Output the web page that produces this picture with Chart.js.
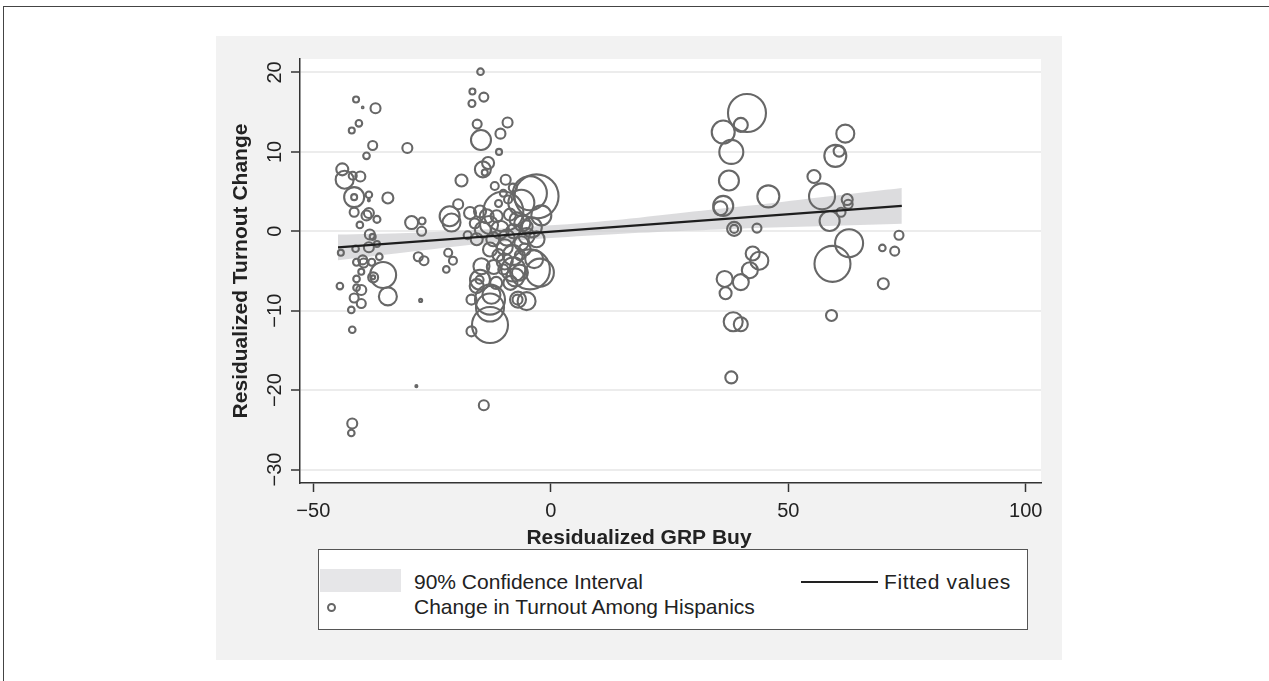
<!DOCTYPE html>
<html>
<head>
<meta charset="utf-8">
<script src="https://cdn.jsdelivr.net/npm/chart.js@4.4.0/dist/chart.umd.min.js"></script>
<style>
  html, body { margin: 0; padding: 0; background: #fff; }
  #wrap { position: relative; width: 1269px; height: 681px; overflow: hidden;
          font-family: "Liberation Sans", Arial, Helvetica, sans-serif; color: #222; }
  #frame { position: absolute; left: 3px; top: 6px; right: -10px; bottom: -10px;
           border-top: 1.5px solid #444; border-left: 1.5px solid #444; }
  #chart { position: absolute; left: 0; top: 0; }
  #legend { position: absolute; left: 318px; top: 549px; width: 708px; height: 79px;
            border: 1.5px solid #555; background: #fff; font-size: 21px; }
  #legend div { position: absolute; }
  .lbl { line-height: 24px; white-space: nowrap; }
</style>
</head>
<body>
<div id="wrap">
  <div id="frame"></div>
  <canvas id="chart" width="1269" height="681"></canvas>
  <div id="legend">
    <div style="left:1px;top:19px;width:81px;height:23px;background:#e6e6e8;"></div>
    <div class="lbl" style="left:95px;top:20px;">90% Confidence Interval</div>
    <div style="left:482px;top:31px;width:77px;height:2px;background:#222;"></div>
    <div class="lbl" style="left:565px;top:20px;letter-spacing:0.6px;">Fitted values</div>
    <div style="left:8px;top:53px;width:5px;height:5px;border:2px solid #666;border-radius:50%;"></div>
    <div class="lbl" style="left:95px;top:45px;">Change in Turnout Among Hispanics</div>
  </div>
</div>
<script>
// bubbles: x = residualized GRP buy, y = residualized turnout change, r = marker size
var grpBuy = [
  -41.0, -36.9, -40.4, -41.9, -37.5, -30.2, -38.8, -43.9, -43.4, -41.7,
  -40.1, -41.4, -41.4, -38.3, -38.3, -34.3, -41.4, -38.8, -38.3, -36.6,
  -40.2, -38.1, -29.3, -27.1, -27.2, -37.5, -38.3, -36.6, -44.2, -41.1,
  -40.9, -39.6, -39.4, -37.7, -36.1, -39.9, -27.9, -26.7, -22.0, -21.6,
  -35.3, -37.4, -37.4, -40.9, -44.4, -40.9, -39.9, -41.4, -39.9, -34.3,
  -27.4, -42.0, -41.8, -28.3, -41.8, -42.0, -39.6,
  -14.8, -16.5, -14.1, -16.6, -15.5, -14.7, -9.1, -10.6, -10.9, -14.3,
  -13.2, -13.9, -18.8, -11.8, -21.3, -19.5, -20.9, -3.0, -4.4, -6.2,
  -10.0, -10.0, -11.0, -9.0, -17.0, -14.9, -13.5, -11.4, -8.6, -7.2,
  -5.1, -14.3, -10.7, -7.9, -5.1, -15.6, -12.1, -9.3, -6.2, -3.0,
  -12.8, -9.7, -5.5, -20.6, -14.6, -14.9, -15.0, -16.7, -12.8, -12.8,
  -12.8, -16.7, -7.9, -4.4, -6.5, -6.9, -9.7, -14.1, -15.6, -12.5,
  -2.3, -5.1, -7.0, -10.0, -17.5, -16.0, -8.0, -6.5, -11.5, -8.5,
  -2.0, -4.0, -8.0, -3.5, -11.0, -6.0, -13.0, -9.5, -7.5, -12.0,
  41.3, 36.3, 40.0, 38.0, 37.5, 36.3, 35.7, 45.8, 38.6, 38.6,
  43.4, 62.0, 59.9, 60.7, 55.4, 57.1, 62.4, 62.6, 61.1, 58.7,
  62.8, 59.3, 73.3, 69.8, 72.4, 42.5, 43.9, 41.9, 36.6, 40.0,
  36.8, 70.0, 38.4, 40.0, 59.1, 38.0
];
var turnoutChange = [
  16.6, 15.5, 13.6, 12.7, 10.8, 10.5, 9.5, 7.8, 6.5, 7.0,
  6.9, 4.3, 4.3, 4.6, 3.9, 4.2, 2.4, 2.0, 2.3, 1.5,
  0.8, -0.4, 1.1, 1.3, 0.0, -0.7, -2.0, -1.6, -2.7, -2.2,
  -3.9, -3.6, -4.0, -3.9, -3.2, -5.1, -3.2, -3.7, -4.8, -2.7,
  -5.5, -5.8, -5.8, -6.0, -6.9, -7.1, -7.4, -8.4, -9.1, -8.2,
  -8.7, -9.9, -12.4, -19.5, -24.2, -25.4, 15.6,
  20.1, 17.6, 16.9, 16.1, 13.5, 11.5, 13.7, 12.3, 10.0, 7.8,
  8.6, 7.4, 6.4, 5.7, 1.9, 3.4, 1.1, 4.4, 4.8, 3.6,
  2.5, 4.8, 3.5, 4.0, 2.3, 2.5, 1.9, 1.9, 2.1, 1.5,
  0.6, 0.2, 0.2, 0.0, -0.6, -1.0, -1.0, -0.8, -1.5, -1.0,
  -2.3, -2.0, -2.3, -3.7, -4.4, -6.1, -6.1, -8.6, -8.6, -9.6,
  -11.8, -12.6, -4.8, -4.8, -5.2, -8.6, -3.8, -21.9, -6.9, -8.0,
  -5.2, -8.8, -8.6, -4.8, -0.5, 1.0, 5.5, -3.0, -6.5, -6.5,
  2.0, 0.5, -3.0, -3.5, -3.0, 1.0, 0.8, 6.5, -5.8, -4.5,
  14.9, 12.5, 13.4, 10.0, 6.4, 3.2, 2.9, 4.4, 0.3, 0.3,
  0.4, 12.3, 9.5, 10.1, 6.9, 4.4, 4.0, 3.4, 2.4, 1.3,
  -1.5, -4.1, -0.5, -2.1, -2.5, -2.8, -3.7, -4.9, -6.0, -6.4,
  -7.8, -6.6, -11.4, -11.7, -10.6, -18.4
];
var popSize = [
  3, 5, 3.3, 3, 4.5, 5, 3.3, 6, 9, 4,
  5, 10, 3, 3.3, 1, 5.5, 4.5, 5, 5, 3.5,
  3.3, 5, 6.5, 3.5, 4.5, 3, 5, 3, 3, 3.3,
  3.5, 4.5, 4.5, 3.5, 3.3, 3, 4.5, 4.5, 3.3, 4,
  13, 5, 2, 3.3, 3.3, 3.3, 5, 4.5, 4.5, 9,
  1.5, 3.3, 3.3, 1, 5, 3.3, 0.8,
  3.3, 3, 4.5, 3.5, 4.5, 10, 5, 5, 3, 8,
  6, 3, 6, 4, 10, 5, 9, 22, 17, 13,
  20, 3.5, 3.5, 4, 6, 6, 7, 6, 6, 7,
  6, 8, 9, 7, 8, 6, 7, 8, 7, 8,
  7, 8, 6, 4, 8, 10, 4, 5, 15, 14,
  18, 5, 12, 20, 8, 8, 8, 5, 7, 9,
  14, 9, 5, 5, 4, 5, 4, 5, 6, 7,
  10, 10, 10, 9, 6, 8, 9, 5, 9, 7,
  19, 11.5, 7, 12, 10, 10, 7, 11, 7, 4,
  4.5, 9, 11, 5.5, 6.5, 13, 5.5, 4.5, 4.5, 10,
  14, 18, 4.5, 3.3, 4.5, 7, 9, 8, 8, 8,
  6, 5.5, 9.5, 7, 5.5, 6
];

// fitted line and 90% confidence band
var fitX = [-44.8, 73.9];
var fitY = [-2.03, 3.2];
var ciX = [-44.8, -30, -15, 0, 15, 30, 45, 60, 73.9];
var ciUpper = [-0.4, -0.2, 0.2, 0.75, 1.5, 2.5, 3.45, 4.5, 5.45];
var ciLower = [-3.65, -2.6, -1.6, -0.85, -0.3, 0.1, 0.45, 0.7, 0.95];

var xTicks = [-50, 0, 50, 100];
var yTicks = [-30, -20, -10, 0, 10, 20];

function fmt(v) { return v < 0 ? '\u2212' + Math.abs(v) : String(v); }

var FONT = '"Liberation Sans", Arial, Helvetica, sans-serif';

var panel = {
  id: 'panel',
  beforeDraw: function (chart) {
    var ctx = chart.ctx, a = chart.chartArea;
    ctx.save();
    ctx.fillStyle = '#f2f2f2';
    ctx.fillRect(216, 36, 846, 624);
    ctx.fillStyle = '#ffffff';
    ctx.fillRect(a.left, a.top, a.right - a.left, a.bottom - a.top);
    ctx.restore();
  },
  afterDraw: function (chart) {
    var ctx = chart.ctx, y = chart.scales.y, x = chart.scales.x;
    ctx.save();
    ctx.fillStyle = '#222';
    ctx.textAlign = 'center';
    ctx.textBaseline = 'middle';
    // y tick labels are vertical, like the original
    ctx.font = '20px ' + FONT;
    yTicks.forEach(function (v) {
      ctx.save();
      ctx.translate(y.left + 59, y.getPixelForValue(v));
      ctx.rotate(-Math.PI / 2);
      ctx.fillText(fmt(v), 0, 0);
      ctx.restore();
    });
    // x title sits centred on the whole graph region
    ctx.font = 'bold 21px ' + FONT;
    ctx.fillText('Residualized GRP Buy', 639, x.bottom - 15);
    ctx.restore();
  }
};

Chart.defaults.font.family = FONT;
Chart.defaults.color = '#222';

var ctx = document.getElementById('chart').getContext('2d');
var chart = new Chart(ctx, {
  type: 'bubble',
  data: {
    datasets: [{
        type: 'line',
        label: '90% Confidence Interval',
        data: ciX.map(function (x, i) { return { x: x, y: ciUpper[i] }; }),
        borderWidth: 0,
        pointRadius: 0,
        tension: 0.3,
        fill: '+1',
        backgroundColor: 'rgba(205,205,208,0.7)',
        order: 4
      }, {
        type: 'line',
        label: 'ci lower',
        data: ciX.map(function (x, i) { return { x: x, y: ciLower[i] }; }),
        borderWidth: 0,
        pointRadius: 0,
        tension: 0.3,
        fill: false,
        order: 4
      }, {
        type: 'bubble',
        label: 'Change in Turnout Among Hispanics',
        data: grpBuy.map(function (x, i) { return { x: x, y: turnoutChange[i], r: popSize[i] }; }),
        borderColor: '#676767',
        borderWidth: 2.1,
        backgroundColor: 'rgba(0,0,0,0)',
        order: 2
      }, {
        type: 'line',
        label: 'Fitted values',
        data: fitX.map(function (x, i) { return { x: x, y: fitY[i] }; }),
        borderColor: '#1e1e1e',
        borderWidth: 2.2,
        pointRadius: 0,
        fill: false,
        order: 1
      }
    ]
  },
  options: {
    responsive: false,
    animation: false,
    layout: { padding: { left: 216, top: 59, right: 228, bottom: 128 } },
    plugins: {
      legend: { display: false },
      tooltip: { enabled: false }
    },
    scales: {
      x: {
        type: 'linear',
        min: -52.8,
        max: 103.2,
        afterBuildTicks: function (s) { s.ticks = xTicks.map(function (v) { return { value: v }; }); },
        afterFit: function (s) { s.height = 70; },
        grid: { drawOnChartArea: false, tickLength: 9, tickColor: '#333', tickWidth: 1.5 },
        border: { color: '#333', width: 1.5 },
        ticks: { padding: 7, maxRotation: 0, font: { size: 20 }, color: '#222', callback: fmt },
        title: { display: false }
      },
      y: {
        type: 'linear',
        min: -31.7,
        max: 21.7,
        afterBuildTicks: function (s) { s.ticks = yTicks.map(function (v) { return { value: v }; }); },
        afterFit: function (s) { s.width = 84; },
        grid: { color: '#ececec', lineWidth: 2, tickLength: 9, tickColor: '#333', tickWidth: 1.5 },
        border: { color: '#333', width: 1.5 },
        ticks: { display: false },
        title: { display: true, text: 'Residualized Turnout Change', font: { size: 21, weight: 'bold' },
                 color: '#222', padding: { top: 13, bottom: 0 } }
      }
    }
  },
  plugins: [panel]
});
</script>
</body>
</html>
